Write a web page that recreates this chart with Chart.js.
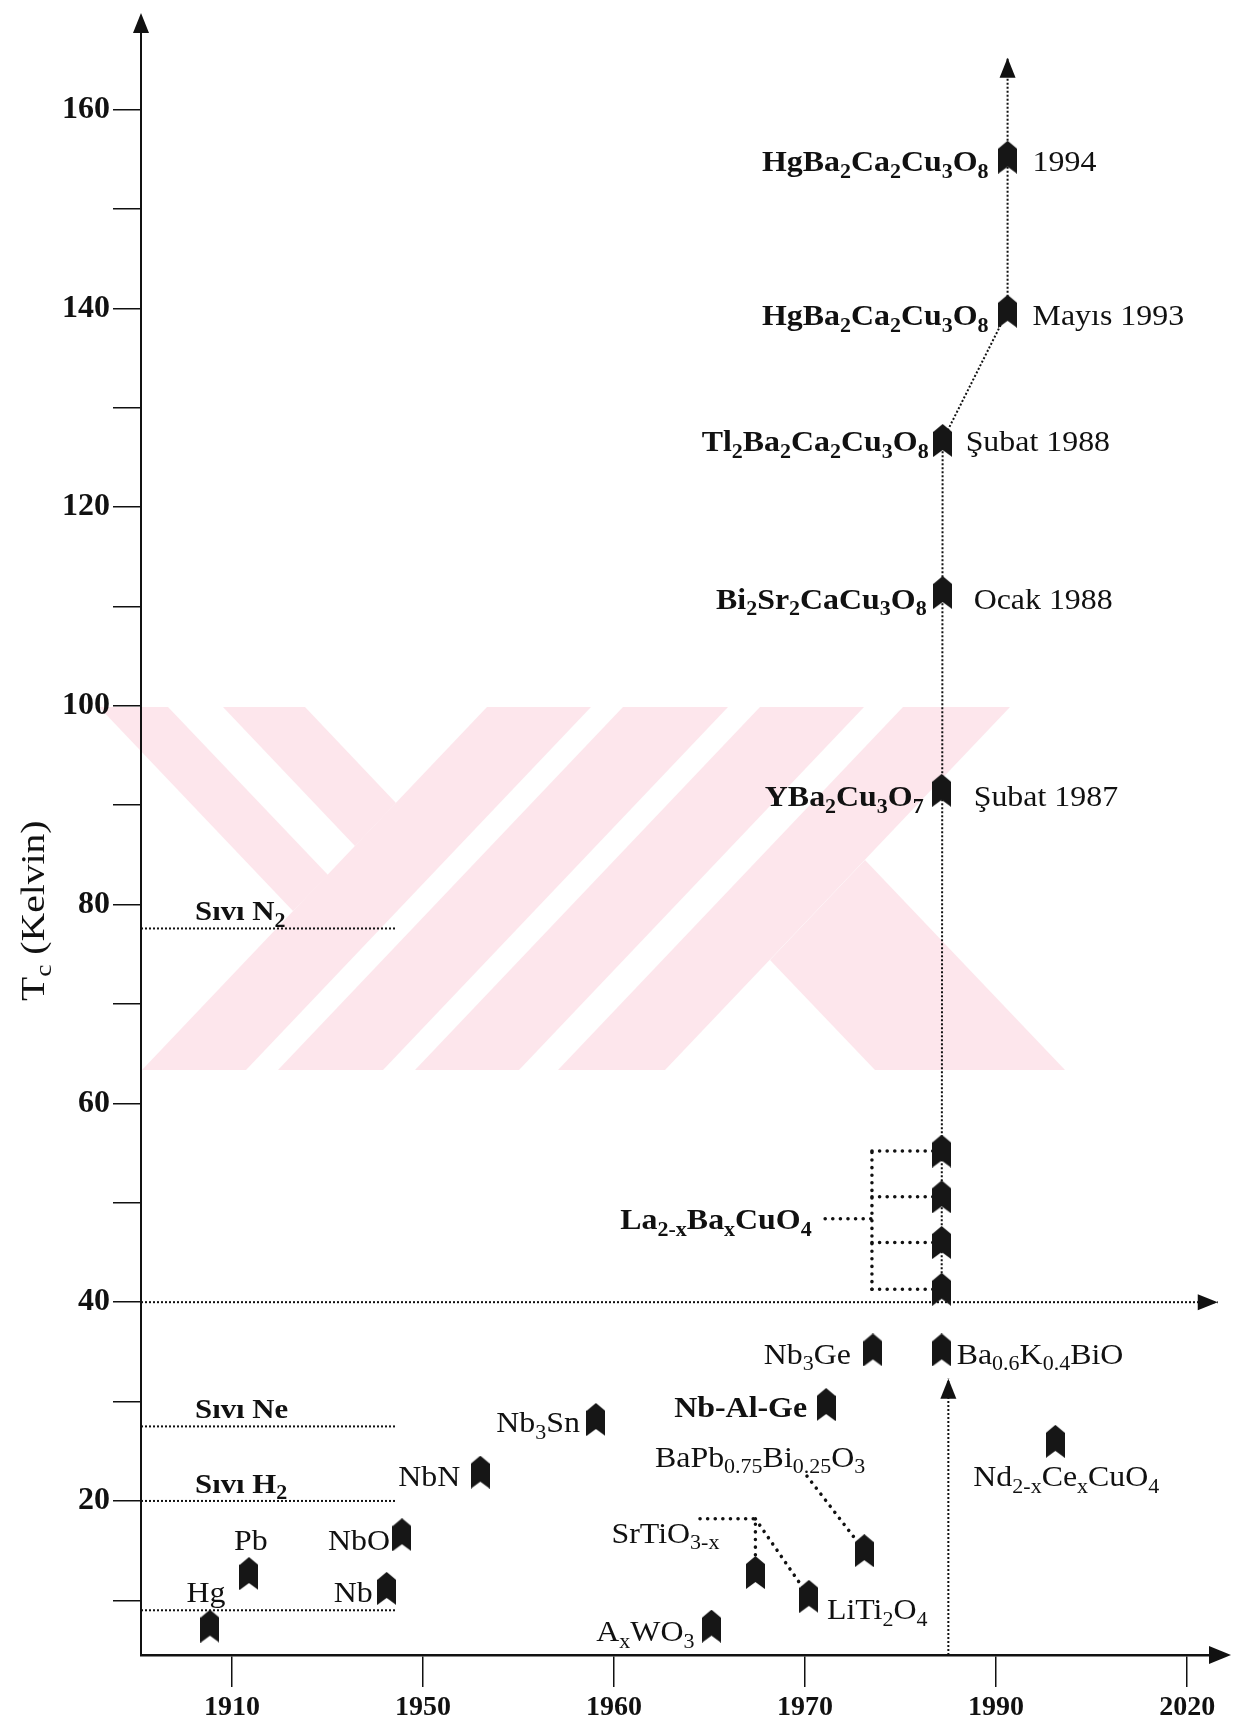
<!DOCTYPE html>
<html lang="tr">
<head>
<meta charset="utf-8">
<title>Tc (Kelvin)</title>
<script src="https://cdn.jsdelivr.net/npm/chart.js@4.4.1/dist/chart.umd.min.js"></script>
<style>
  html, body { margin: 0; padding: 0; background: #fff; }
  #wrap { width: 1246px; height: 1728px; }
</style>
</head>
<body>
<div id="wrap"><canvas id="tcChart" width="1246" height="1728"></canvas></div>
<script>
// --- axes ---
const xTickPos = [1, 2, 3, 4, 5, 6];
const xTickLabels = ["1910", "1950", "1960", "1970", "1990", "2020"];
const yTickValues = [10, 20, 30, 40, 50, 60, 70, 80, 90, 100, 110, 120, 130, 140, 150, 160];
const xMin = 0.524;
const xMax = 6.13;
const yMin = 4.5;
const yMax = 168;

// --- superconductors (x = position on the axis, y = Tc in K) ---
const materialNames = [
  "Hg", "Pb", "Nb", "NbO", "NbN", "Nb_{3}Sn", "A_{x}WO_{3}", "SrTiO_{3-x}", "LiTi_{2}O_{4}",
  "Nb-Al-Ge", "BaPb_{0.75}Bi_{0.25}O_{3}", "Nb_{3}Ge", "Ba_{0.6}K_{0.4}BiO",
  "La_{2-x}Ba_{x}CuO_{4}", "", "", "",
  "YBa_{2}Cu_{3}O_{7}", "Bi_{2}Sr_{2}CaCu_{3}O_{8}", "Tl_{2}Ba_{2}Ca_{2}Cu_{3}O_{8}",
  "HgBa_{2}Ca_{2}Cu_{3}O_{8}", "HgBa_{2}Ca_{2}Cu_{3}O_{8}", "Nd_{2-x}Ce_{x}CuO_{4}"
];
const materialX = [
  0.885, 1.089, 1.81, 1.89, 2.30, 2.905, 3.51, 3.74, 4.02,
  4.11, 4.31, 4.355, 4.715,
  4.715, 4.715, 4.715, 4.715,
  4.715, 4.72, 4.72,
  5.06, 5.06, 5.31
];
const materialTc = [
  7.4, 12.7, 11.2, 16.6, 22.9, 28.2, 7.4, 12.8, 10.4,
  29.7, 15.0, 35.2, 35.2,
  41.3, 46.0, 50.6, 55.2,
  91.5, 111.4, 126.7,
  139.7, 155.2, 26.0
];
const discoveryDates = [
  "", "", "", "", "", "", "", "", "",
  "", "", "", "",
  "", "", "", "",
  "Şubat 1987", "Ocak 1988", "Şubat 1988",
  "Mayıs 1993", "1994", ""
];

// --- liquefied gases ---
const liquidNames = ["Sıvı N_{2}", "Sıvı Ne", "Sıvı H_{2}", ""];
const liquidTc = [77.6, 27.5, 20, 9.0];
const liquidEndX = 1.86;

// --- dotted guide lines ---
const chainX = [4.715, 4.72, 5.06, 5.06];
const chainY = [41.3, 126.7, 139.7, 165.2];
const line40X = [xMin, 6.16];
const line40Y = [40, 40];
const riseX = [4.75, 4.75];
const riseY = [yMin, 32.3];
const laSpineX = [4.35, 4.35];
const laSpineY = [41.3, 55.2];
const laStubX = [4.105, 4.35];
const laStubY = [48.4, 48.4];
const srX = [3.45, 3.74, 3.74];
const srY = [18.2, 18.2, 12.8];
const srLiX = [3.74, 4.02];
const srLiY = [18.2, 10.4];
const bapbX = [4.01, 4.31];
const bapbY = [22.5, 15.0];

// label placement: [align, dx, dy] in px from the marker
const labelPlace = [
  ["center", -4, -24], ["center", 2, -24], ["right", -14, 14], ["right", -12, 15],
  ["right", -20, 14], ["right", -16, 13], ["right", -17, 15], ["right", -36, -30],
  ["left", 18, 23], ["right", -19, 12], ["right", 1, -84], ["right", -22, 14],
  ["left", 15, 14], ["right", -130, -60], null, null, null,
  ["right", -18, 16], ["right", -16, 16], ["right", -14, 11],
  ["right", -19, 14], ["right", -19, 14], ["center", 11, 45]
];
const boldLabels = [9, 13, 17, 18, 19, 20, 21];
const dateDx = { 17: 32, 18: 31, 19: 23, 20: 25, 21: 25 };

const SERIF = "'Liberation Serif', 'Times New Roman', serif";
const STRETCH = 1.1;
const INK = "#111";

function parseRich(str) {
  const parts = [];
  const re = /_\{([^}]*)\}/g;
  let last = 0, m;
  while ((m = re.exec(str)) !== null) {
    if (m.index > last) parts.push({ t: str.slice(last, m.index), sub: false });
    parts.push({ t: m[1], sub: true });
    last = re.lastIndex;
  }
  if (last < str.length) parts.push({ t: str.slice(last), sub: false });
  return parts;
}

function drawRich(ctx, str, x, y, size, bold, align, stretch) {
  const parts = parseRich(str);
  const fontFor = (p) => (bold ? "bold " : "") + Math.round(p.sub ? size * 0.7 : size) + "px " + SERIF;
  let total = 0;
  parts.forEach((p) => {
    ctx.font = fontFor(p);
    p.w = ctx.measureText(p.t).width;
    total += p.w;
  });
  ctx.save();
  ctx.translate(x, y);
  ctx.scale(stretch, 1);
  let cx = align === "right" ? -total : align === "center" ? -total / 2 : 0;
  ctx.fillStyle = INK;
  ctx.textAlign = "left";
  ctx.textBaseline = "alphabetic";
  parts.forEach((p) => {
    ctx.font = fontFor(p);
    ctx.fillText(p.t, cx, p.sub ? size * 0.22 : 0);
    cx += p.w;
  });
  ctx.restore();
}

function arrowHead(ctx, x0, y0, x1, y1, len, half) {
  const a = Math.atan2(y1 - y0, x1 - x0);
  ctx.save();
  ctx.translate(x1, y1);
  ctx.rotate(a);
  ctx.beginPath();
  ctx.moveTo(0, 0);
  ctx.lineTo(-len, -half);
  ctx.lineTo(-len, half);
  ctx.closePath();
  ctx.fillStyle = INK;
  ctx.fill();
  ctx.restore();
}

// chevron marker used for every material
function makeMarker() {
  const c = document.createElement("canvas");
  c.width = 19;
  c.height = 33;
  const g = c.getContext("2d");
  g.beginPath();
  g.moveTo(9.5, 0);
  g.lineTo(19, 8);
  g.lineTo(19, 33);
  g.lineTo(9.5, 26);
  g.lineTo(0, 33);
  g.lineTo(0, 8);
  g.closePath();
  g.fillStyle = "#161616";
  g.fill();
  return c;
}

function guide(xs, ys, bold, arrow) {
  return {
    data: xs.map((x, i) => ({ x: x, y: ys[i] })),
    showLine: true,
    pointRadius: 0,
    borderColor: INK,
    borderWidth: bold ? 3.5 : 2,
    borderDash: bold ? [0.1, 7.5] : [2, 2],
    borderCapStyle: bold ? "round" : "butt",
    tension: 0,
    fill: false,
    clip: false,
    order: 2,
    arrowEnd: arrow
  };
}

// pale pink thesis-archive watermark behind the plot
const WATERMARK = [
  [[487, 707], [591, 707], [246, 1070], [142, 1070]],
  [[623, 707], [728, 707], [383, 1070], [278, 1070]],
  [[760, 707], [864, 707], [519, 1070], [415, 1070]],
  [[903, 707], [1010, 707], [665, 1070], [558, 1070]],
  [[99, 707], [168, 707], [328, 875], [293, 911]],
  [[223, 707], [305, 707], [396, 803], [355, 846]],
  [[865, 860], [1065, 1070], [875, 1070], [770, 960]]
];

document.addEventListener("DOMContentLoaded", function () {
  const ctx = document.getElementById("tcChart");

  const datasets = [
    {
      data: materialX.map((x, i) => ({ x: x, y: materialTc[i] })),
      pointStyle: makeMarker(),
      pointRadius: 9,
      showLine: false,
      order: 0
    },
    guide(chainX, chainY, false, true),
    guide(line40X, line40Y, false, true),
    guide(riseX, riseY, false, true),
    guide(laSpineX, laSpineY, true, false),
    guide(laStubX, laStubY, true, false),
    guide(srX, srY, true, false),
    guide(srLiX, srLiY, true, false),
    guide(bapbX, bapbY, true, false)
  ];
  // stubs from the La bracket to each La marker
  [13, 14, 15, 16].forEach((i) => {
    datasets.push(guide([laSpineX[0], materialX[i]], [materialTc[i], materialTc[i]], true, false));
  });
  // liquefied gas levels
  liquidTc.forEach((t) => {
    datasets.push(guide([xMin, liquidEndX], [t, t], false, false));
  });

  const decorations = {
    id: "decorations",
    beforeDraw(chart) {
      const c = chart.ctx;
      c.save();
      c.fillStyle = "#fff";
      c.fillRect(0, 0, chart.width, chart.height);
      c.fillStyle = "#fde6ec";
      WATERMARK.forEach((poly) => {
        c.beginPath();
        poly.forEach((p, k) => (k ? c.lineTo(p[0], p[1]) : c.moveTo(p[0], p[1])));
        c.closePath();
        c.fill();
      });
      c.restore();
    },
    afterDatasetsDraw(chart) {
      const c = chart.ctx;
      const xs = chart.scales.x;
      const ys = chart.scales.y;
      const area = chart.chartArea;

      // arrow heads at the end of guide lines
      chart.data.datasets.forEach((ds, i) => {
        if (!ds.arrowEnd) return;
        const pts = chart.getDatasetMeta(i).data;
        const a = pts[pts.length - 2];
        const b = pts[pts.length - 1];
        arrowHead(c, a.x, a.y, b.x, b.y, 20, 8);
      });
      // axis arrows
      arrowHead(c, area.left, area.top, area.left, area.top - 17, 20, 8);
      arrowHead(c, area.right - 10, area.bottom, area.right + 19, area.bottom, 22, 9);

      // material labels
      materialNames.forEach((name, i) => {
        const place = labelPlace[i];
        if (!place || !name) return;
        const px = xs.getPixelForValue(materialX[i]);
        const py = ys.getPixelForValue(materialTc[i]);
        drawRich(c, name, px + place[1], py + place[2], 29, boldLabels.includes(i), place[0], STRETCH);
        if (discoveryDates[i]) {
          drawRich(c, discoveryDates[i], px + dateDx[i], py + place[2], 29, false, "left", STRETCH);
        }
      });
      // liquid labels
      liquidNames.forEach((name, i) => {
        if (!name) return;
        drawRich(c, name, area.left + 54, ys.getPixelForValue(liquidTc[i]) - 8, 28, true, "left", STRETCH);
      });

      // y axis title
      c.save();
      c.translate(area.left - 108, area.top + 0.542 * (area.bottom - area.top));
      c.rotate(-Math.PI / 2);
      drawRich(c, "T_{c} (Kelvin)", 0, 11, 33, false, "center", 1.2);
      c.restore();
    }
  };

  new Chart(ctx, {
    type: "scatter",
    data: { datasets: datasets },
    options: {
      responsive: false,
      animation: false,
      devicePixelRatio: 1,
      layout: { padding: { top: 30, right: 34, left: 0, bottom: 0 } },
      plugins: { legend: { display: false }, tooltip: { enabled: false } },
      events: [],
      scales: {
        x: {
          type: "linear",
          min: xMin,
          max: xMax,
          afterBuildTicks: (s) => { s.ticks = xTickPos.map((v) => ({ value: v })); },
          afterFit: (s) => { s.height = 73; },
          ticks: {
            callback: (v, i) => xTickLabels[i],
            autoSkip: false,
            maxRotation: 0,
            padding: 4,
            color: INK,
            font: { family: SERIF, size: 28, weight: "bold" }
          },
          grid: { drawOnChartArea: false, drawTicks: true, tickLength: 32, color: INK, lineWidth: 1.5 },
          border: { display: true, color: INK, width: 2.5 }
        },
        y: {
          type: "linear",
          min: yMin,
          max: yMax,
          afterBuildTicks: (s) => { s.ticks = yTickValues.map((v) => ({ value: v })); },
          afterFit: (s) => { s.width = 141; },
          ticks: {
            callback: (v) => (v % 20 === 0 ? String(v) : ""),
            autoSkip: false,
            padding: 3,
            color: INK,
            font: { family: SERIF, size: 32, weight: "bold" }
          },
          grid: { drawOnChartArea: false, drawTicks: true, tickLength: 28, color: INK, lineWidth: 1.5 },
          border: { display: true, color: INK, width: 2 }
        }
      }
    },
    plugins: [decorations]
  });
});
</script>
</body>
</html>
